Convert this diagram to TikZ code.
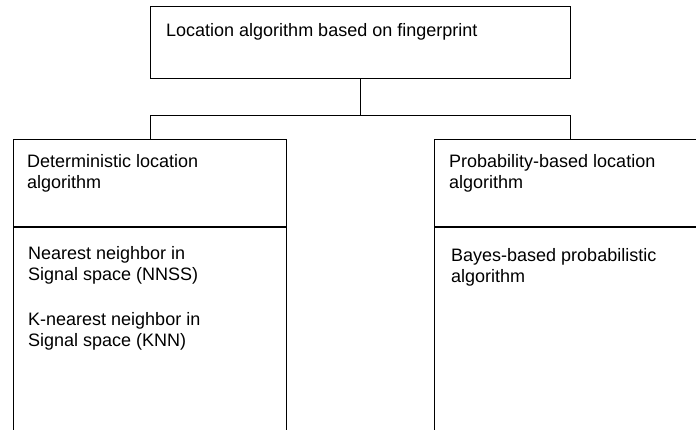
\documentclass[tikz,border=0pt]{standalone}
\usepackage{fontspec}
\setmainfont{Liberation Sans}
\begin{document}
\begin{tikzpicture}[x=1pt,y=-1pt,
  box/.style={draw=black,line width=1.3pt,rectangle,inner sep=0pt,anchor=north west},
  lbl/.style={anchor=base west,inner sep=0pt,font=\fontsize{18}{21}\selectfont,align=left},
  conn/.style={draw=black,line width=1.3pt}]
\useasboundingbox (0,0) rectangle (696,430);
\clip (0,0) rectangle (696,430);
\node[box,minimum width=420pt,minimum height=72pt] (top) at (150,6) {};
\node[box,minimum width=273pt,minimum height=330pt] (left) at (13,139) {};
\node[box,minimum width=271pt,minimum height=330pt] (right) at (434,139) {};
\draw[conn] (left.west |- 0,227) -- (left.east |- 0,227);
\draw[conn] (right.west |- 0,227) -- (right.east |- 0,227);
\path (top.south) ++(0,36) coordinate (j);
\draw[conn] (top.south) -- (j) -| (left.north);
\draw[conn] (j) -| (right.north);
\node[lbl] (t0) at (166,37) {Location algorithm based on fingerprint};
\node[lbl] (t1) at (27,168) {Deterministic location};
\node[lbl] (t2) at (27,189) {algorithm};
\node[lbl] (t3) at (28,260) {Nearest neighbor in};
\node[lbl] (t4) at (28,281) {Signal space (NNSS)};
\node[lbl] (t5) at (28,325) {K-nearest neighbor in};
\node[lbl] (t6) at (28,346) {Signal space (KNN)};
\node[lbl] (t7) at (449,168) {Probability-based location};
\node[lbl] (t8) at (449,189) {algorithm};
\node[lbl] (t9) at (451,262) {Bayes-based probabilistic};
\node[lbl] (t10) at (451,283) {algorithm};
\end{tikzpicture}
\end{document}
